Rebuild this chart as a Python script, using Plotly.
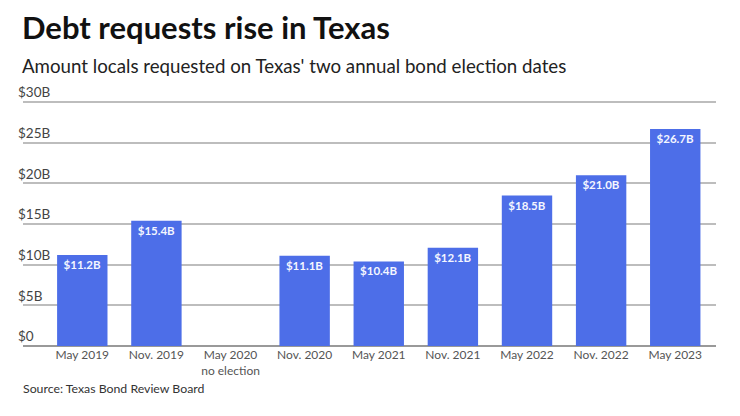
import plotly.graph_objects as go

categories = ["May 2019", "Nov. 2019", "May 2020", "Nov. 2020", "May 2021",
              "Nov. 2021", "May 2022", "Nov. 2022", "May 2023"]
tick_labels = ["May 2019", "Nov. 2019", "May 2020<br>no election", "Nov. 2020", "May 2021",
               "Nov. 2021", "May 2022", "Nov. 2022", "May 2023"]
values = [11.2, 15.4, None, 11.1, 10.4, 12.1, 18.5, 21.0, 26.7]
bar_labels = ["$11.2B", "$15.4B", "", "$11.1B", "$10.4B", "$12.1B", "$18.5B", "$21.0B", "$26.7B"]
y_ticks = [0, 5, 10, 15, 20, 25, 30]
y_tick_labels = ["$0", "$5B", "$10B", "$15B", "$20B", "$25B", "$30B"]

W, H = 740, 416
YMAX = 32.6
L, R, B = 23, 24, 70
T = int(round(102 - (YMAX - 30) * (244 / 30)))

fig = go.Figure(go.Bar(
    x=categories, y=values, text=bar_labels,
    marker=dict(color="#4d6ee8", line=dict(width=0)),
    textposition="inside", insidetextanchor="end",
    textfont=dict(family="Lato", size=11.5, color="#f4f6ff", weight="bold"),
    textangle=0, cliponaxis=False, hoverinfo="skip",
))

fig.update_layout(
    width=W, height=H,
    margin=dict(l=L, r=R, t=T, b=B, autoexpand=False),
    paper_bgcolor="white", plot_bgcolor="white",
    bargap=0.32, showlegend=False,
    font=dict(family="Lato", color="#444"),
)
fig.update_xaxes(
    type="category", tickvals=categories, ticktext=tick_labels,
    range=[-0.8, 8.55], showgrid=False, showline=False, ticks="",
    automargin=False,
    tickfont=dict(family="Lato", size=12, color="#555"),
)
fig.update_yaxes(
    range=[0, YMAX], tickvals=y_ticks, ticktext=y_tick_labels,
    showgrid=True, gridcolor="#bdbdbd", gridwidth=1.5,
    zeroline=True, zerolinecolor="#999", zerolinewidth=1.5,
    ticklabelposition="inside top", ticks="", showline=False,
    ticklabelstandoff=-8, automargin=False,
    tickfont=dict(family="Lato", size=13.5, color="#444"),
)

pw = W - L - R
ph = H - T - B
def px(xp):
    return (xp - L) / pw
def py(yp):
    return (H - B - yp) / ph

fig.add_annotation(text="<b>Debt requests rise in Texas</b>", x=px(20), y=py(27),
                   xref="paper", yref="paper", xanchor="left", yanchor="middle",
                   showarrow=False, font=dict(family="Lato", size=31, color="#111"))
fig.add_annotation(text="Amount locals requested on Texas' two annual bond election dates",
                   x=px(20), y=py(66), xref="paper", yref="paper", xanchor="left", yanchor="middle",
                   showarrow=False, font=dict(family="Lato", size=18.7, color="#222"))
fig.add_annotation(text="Source: Texas Bond Review Board", x=px(21), y=py(388),
                   xref="paper", yref="paper", xanchor="left", yanchor="middle",
                   showarrow=False, font=dict(family="Lato", size=12.3, color="#333"))

fig.write_html("out.html", config={"displayModeBar": False},
               post_script="document.body.style.margin='0px';")
